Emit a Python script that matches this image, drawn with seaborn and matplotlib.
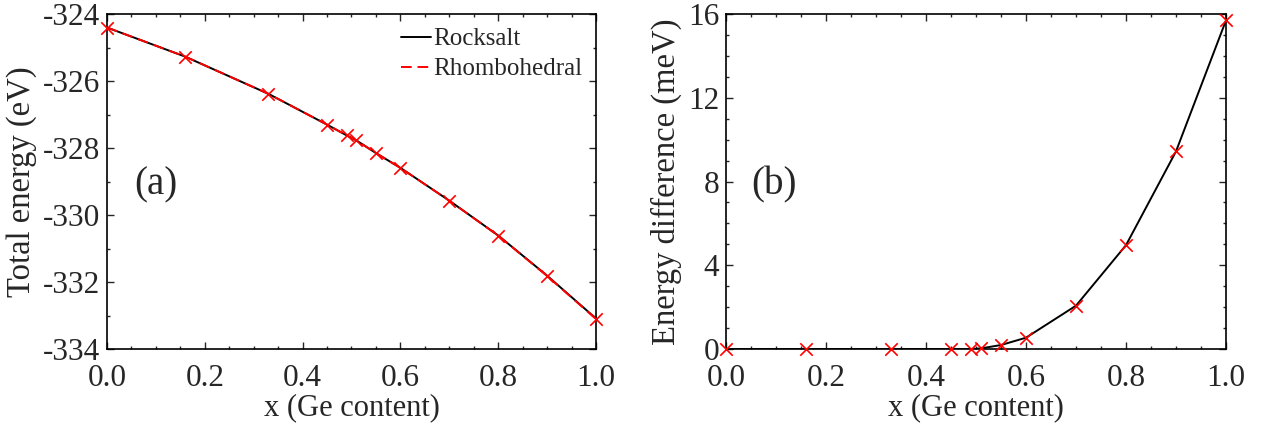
import numpy as np
import matplotlib
matplotlib.use("Agg")
import matplotlib.pyplot as plt
import seaborn as sns
from matplotlib.ticker import MultipleLocator

# Data
x_ge = [0.0, 0.16, 0.33, 0.45, 0.49, 0.51, 0.55, 0.60, 0.70, 0.80, 0.90, 1.00]
e_rocksalt = [-324.40, -325.27, -326.38, -327.30, -327.62, -327.77,
              -328.15, -328.59, -329.57, -330.61, -331.81, -333.09]
e_rhombo = [-324.40, -325.27, -326.38, -327.30, -327.62, -327.77,
            -328.15, -328.591, -329.572, -330.615, -331.819, -333.106]
e_diff = [0.0, 0.0, 0.0, 0.0, 0.0, 0.03, 0.19, 0.54, 2.07, 4.96, 9.44, 15.7]

sns.set_style("ticks")
plt.rcParams["font.family"] = ["Liberation Serif", "DejaVu Serif"]
plt.rcParams["axes.unicode_minus"] = False

fig = plt.figure(figsize=(12.63, 4.25), dpi=100)
ax1 = fig.add_axes([0.0847, 0.1788, 0.3872, 0.788])
ax2 = fig.add_axes([0.5748, 0.1788, 0.3959, 0.788])

# (a) total energy
sns.lineplot(x=x_ge, y=e_rocksalt, ax=ax1, color="black", lw=1.4,
             label="Rocksalt")
sns.lineplot(x=x_ge, y=e_rhombo, ax=ax1, color="red", lw=1.4,
             linestyle=(0, (5.5, 3)), label="Rhombohedral")
sns.scatterplot(x=x_ge, y=e_rhombo, ax=ax1, color="red", marker="x",
                s=80, linewidth=1.2, zorder=5, clip_on=False)
ax1.set_xlim(0, 1)
ax1.set_ylim(-334, -324)
ax1.yaxis.set_major_locator(MultipleLocator(2))
ax1.yaxis.set_minor_locator(MultipleLocator(1))
ax1.set_ylabel("Total energy (eV)", fontsize=23.5, labelpad=4)
ax1.text(0.055, 0.49, "(a)", transform=ax1.transAxes, fontsize=28,
         va="center", ha="left")
ax1.legend(loc="upper right", frameon=False, fontsize=18,
           handlelength=1.2, handletextpad=0.1, borderaxespad=0.15,
           labelspacing=0.3)

# (b) energy difference
sns.lineplot(x=x_ge, y=e_diff, ax=ax2, color="black", lw=1.4)
sns.scatterplot(x=x_ge, y=e_diff, ax=ax2, color="red", marker="x",
                s=80, linewidth=1.2, zorder=5, clip_on=False)
ax2.set_xlim(0, 1)
ax2.set_ylim(0, 16)
ax2.yaxis.set_major_locator(MultipleLocator(4))
ax2.yaxis.set_minor_locator(MultipleLocator(1))
ax2.set_ylabel("Energy difference (meV)", fontsize=23.5, labelpad=4)
ax2.text(0.05, 0.49, "(b)", transform=ax2.transAxes, fontsize=28,
         va="center", ha="left")

for ax in (ax1, ax2):
    ax.xaxis.set_major_locator(MultipleLocator(0.2))
    ax.xaxis.set_minor_locator(MultipleLocator(0.05))
    ax.xaxis.set_major_formatter(plt.FormatStrFormatter("%.1f"))
    ax.set_xlabel("x (Ge content)", fontsize=22, labelpad=0)
    ax.tick_params(which="both", direction="in", top=True, right=True,
                   labelsize=22.5, width=1.0)
    ax.tick_params(which="major", length=5, pad=5)
    ax.tick_params(axis="x", which="major", pad=11)
    ax.tick_params(which="minor", length=2.5)
    for sp in ax.spines.values():
        sp.set_visible(True)
        sp.set_linewidth(1.2)
        sp.set_color("black")

fig.savefig("out.png", dpi=100)
